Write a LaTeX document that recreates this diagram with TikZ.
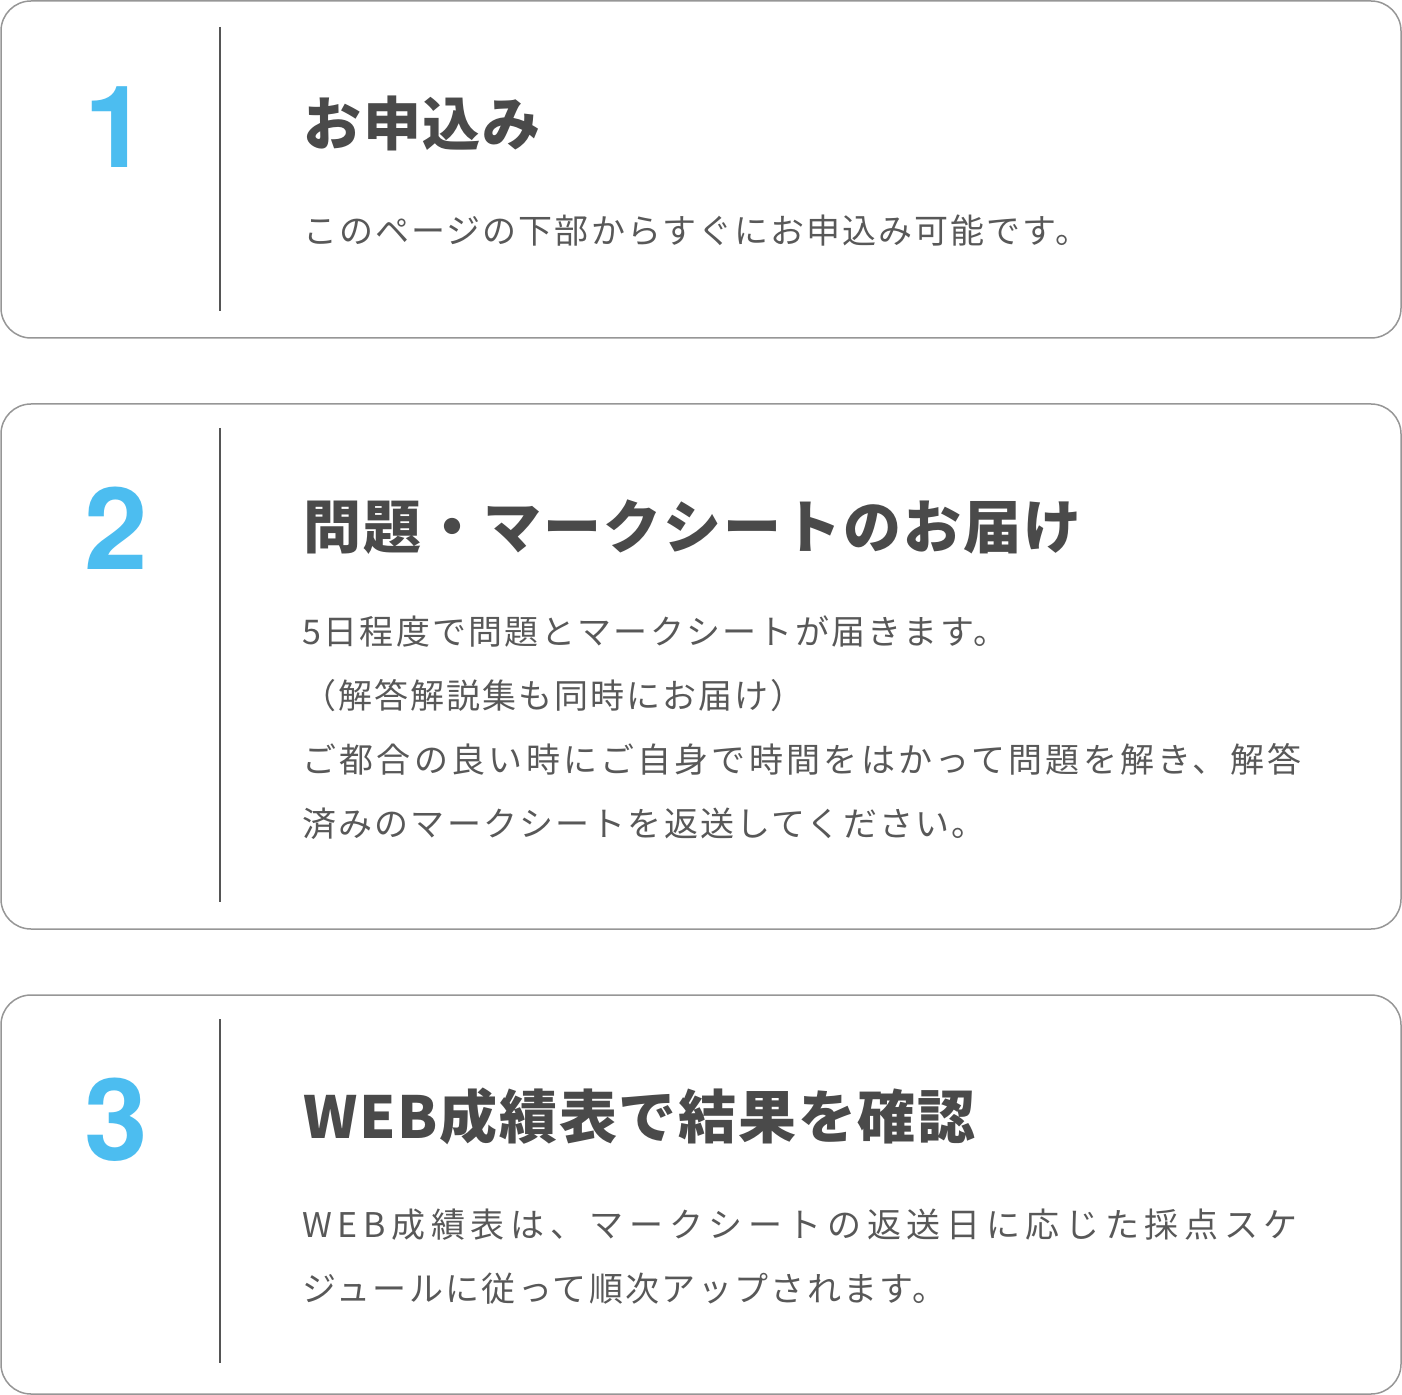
\documentclass[tikz,border=0pt]{standalone}
\usepackage{fontspec}
\usepackage{xcolor}
\usepackage{tikz}

\newfontfamily\jpfont{Noto Sans CJK JP}
\newfontfamily\numfont{TeX Gyre Heros}

\definecolor{stepblue}{RGB}{76,189,240}
\definecolor{titlegray}{RGB}{74,74,74}
\definecolor{bodygray}{RGB}{88,88,88}
\definecolor{framegray}{RGB}{150,150,150}
\definecolor{rulegray}{RGB}{85,85,85}

\newcommand{\bodytext}[2]{{\jpfont\addfontfeature{LetterSpace=#1}#2}}

\begin{document}
\begin{tikzpicture}[x=0.5pt, y=-0.5pt,
    card/.style={draw=framegray, line width=0.75pt, rounded corners=15pt},
    divider/.style={draw=rulegray, line width=0.6pt},
    stepnum/.style={inner sep=0pt, text=stepblue, font=\numfont\bfseries\fontsize{57pt}{57pt}\selectfont},
    steptitle/.style={anchor=base west, inner sep=0pt, text=titlegray, font=\jpfont\bfseries\fontsize{29pt}{29pt}\selectfont},
    stepbody/.style={anchor=base west, inner sep=0pt, text=bodygray, font=\fontsize{17pt}{17pt}\selectfont}]
            \useasboundingbox (0,0) rectangle (1402,1395);

            % step 1
            \draw[card] (1,1) rectangle (1401,338);
            \draw[divider] (220,27) -- (220,311);
            \node[stepnum] (num1) at (116,127) {1};
            \node[steptitle] (title1) at (303,146) {\addfontfeature{LetterSpace=3}お申込み};
            \node[stepbody] (body1) at (303,244) {\bodytext{6}{このページの下部からすぐにお申込み可能です。}};

            % step 2
            \draw[card] (1,404) rectangle (1401,929);
            \draw[divider] (220,428) -- (220,902);
            \node[stepnum] (num2) at (116,528) {2};
            \node[steptitle] (title2) at (303,548) {\addfontfeature{LetterSpace=3.5}問題・マークシートのお届け};
            \node[stepbody] (body2a) at (302,644) {\bodytext{6.7}{5日程度で問題とマークシートが届きます。}};
            \node[stepbody] (body2b) at (302,708) {\bodytext{6}{（解答解説集も同時にお届け）}};
            \node[stepbody] (body2c) at (302,772) {\bodytext{9.7}{ご都合の良い時にご自身で時間をはかって問題を解き、解答}};
            \node[stepbody] (body2d) at (302,836) {\bodytext{6.4}{済みのマークシートを返送してください。}};

            % step 3
            \draw[card] (1,995) rectangle (1401,1394);
            \draw[divider] (220,1019) -- (220,1363);
            \node[stepnum] (num3) at (116,1120) {3};
            \node[steptitle] (title3) at (303,1138) {\addfontfeature{LetterSpace=3}WEB成績表で結果を確認};
            \node[stepbody] (body3a) at (302,1237) {\bodytext{16.6}{WEB成績表は、マークシートの返送日に応じた採点スケ}};
            \node[stepbody] (body3b) at (302,1301) {\bodytext{6.9}{ジュールに従って順次アップされます。}};
        \end{tikzpicture}
\end{document}
